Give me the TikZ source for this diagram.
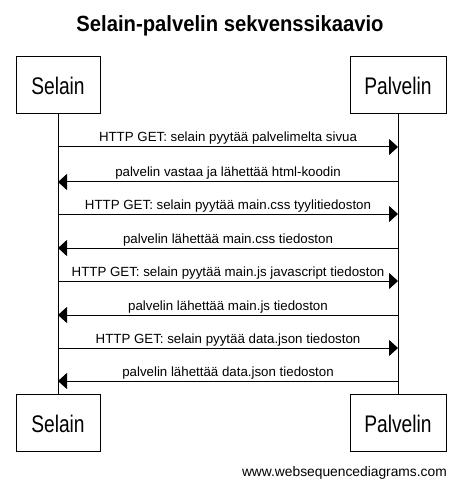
\documentclass[tikz,border=0pt]{standalone}
\usepackage{fontspec}
\setmainfont{Liberation Sans}
\newfontfamily\boxfont[FakeStretch=0.8]{Liberation Sans}
\newfontfamily\titlefont[FakeStretch=0.92]{Liberation Sans}
\usetikzlibrary{arrows.meta}
\begin{document}
\begin{tikzpicture}[x=1pt,y=-1pt,
  actor/.style={draw,line width=1pt,minimum height=57pt,inner sep=0pt,font=\boxfont\fontsize{24}{28}\selectfont},
  life/.style={line width=1pt},
  msg/.style={line width=1pt,-{Triangle[length=9pt,width=16pt]}},
  lbl/.style={midway,anchor=base,yshift=5pt,inner sep=0pt,font=\fontsize{13.3}{15}\selectfont}]
\useasboundingbox (0,0) rectangle (460,486);
\node[anchor=base,font=\titlefont\bfseries\fontsize{22}{26}\selectfont] (title) at (230,31.7) {Selain-palvelin sekvenssikaavio};
\node[actor,minimum width=84pt] (sTop) at (58,85) {};
\node[actor,minimum width=96pt] (pTop) at (398,85) {};
\node[actor,minimum width=84pt] (sBot) at (58,422.7) {};
\node[actor,minimum width=96pt] (pBot) at (398,422.7) {};
\node[anchor=base,inner sep=0pt,font=\boxfont\fontsize{24}{28}\selectfont] (sTopT) at (58,95) {Selain};
\node[anchor=base,inner sep=0pt,font=\boxfont\fontsize{24}{28}\selectfont] (pTopT) at (398,95) {Palvelin};
\node[anchor=base,inner sep=0pt,font=\boxfont\fontsize{24}{28}\selectfont] (sBotT) at (58,432.7) {Selain};
\node[anchor=base,inner sep=0pt,font=\boxfont\fontsize{24}{28}\selectfont] (pBotT) at (398,432.7) {Palvelin};
\draw[life] (sTop.south) -- (sBot.north);
\draw[life] (pTop.south) -- (pBot.north);
\foreach \i/\y in {1/147,2/182,3/214,4/248,5/281,6/315,7/348,8/381}{
  \coordinate (s\i) at (58,\y);
  \coordinate (p\i) at (398,\y);
}
\draw[msg] (s1) -- node[lbl] (m1) {HTTP GET: selain pyytää palvelimelta sivua} (p1);
\draw[msg] (p2) -- node[lbl] (m2) {palvelin vastaa ja lähettää html-koodin} (s2);
\draw[msg] (s3) -- node[lbl] (m3) {HTTP GET: selain pyytää main.css tyylitiedoston} (p3);
\draw[msg] (p4) -- node[lbl] (m4) {palvelin lähettää main.css tiedoston} (s4);
\draw[msg] (s5) -- node[lbl] (m5) {HTTP GET: selain pyytää main.js javascript tiedoston} (p5);
\draw[msg] (p6) -- node[lbl] (m6) {palvelin lähettää main.js tiedoston} (s6);
\draw[msg] (s7) -- node[lbl] (m7) {HTTP GET: selain pyytää data.json tiedoston} (p7);
\draw[msg] (p8) -- node[lbl] (m8) {palvelin lähettää data.json tiedoston} (s8);
\node[anchor=base east,inner sep=0pt,font=\fontsize{13.8}{16}\selectfont] (footer) at (447,476) {www.websequencediagrams.com};
\end{tikzpicture}
\end{document}
